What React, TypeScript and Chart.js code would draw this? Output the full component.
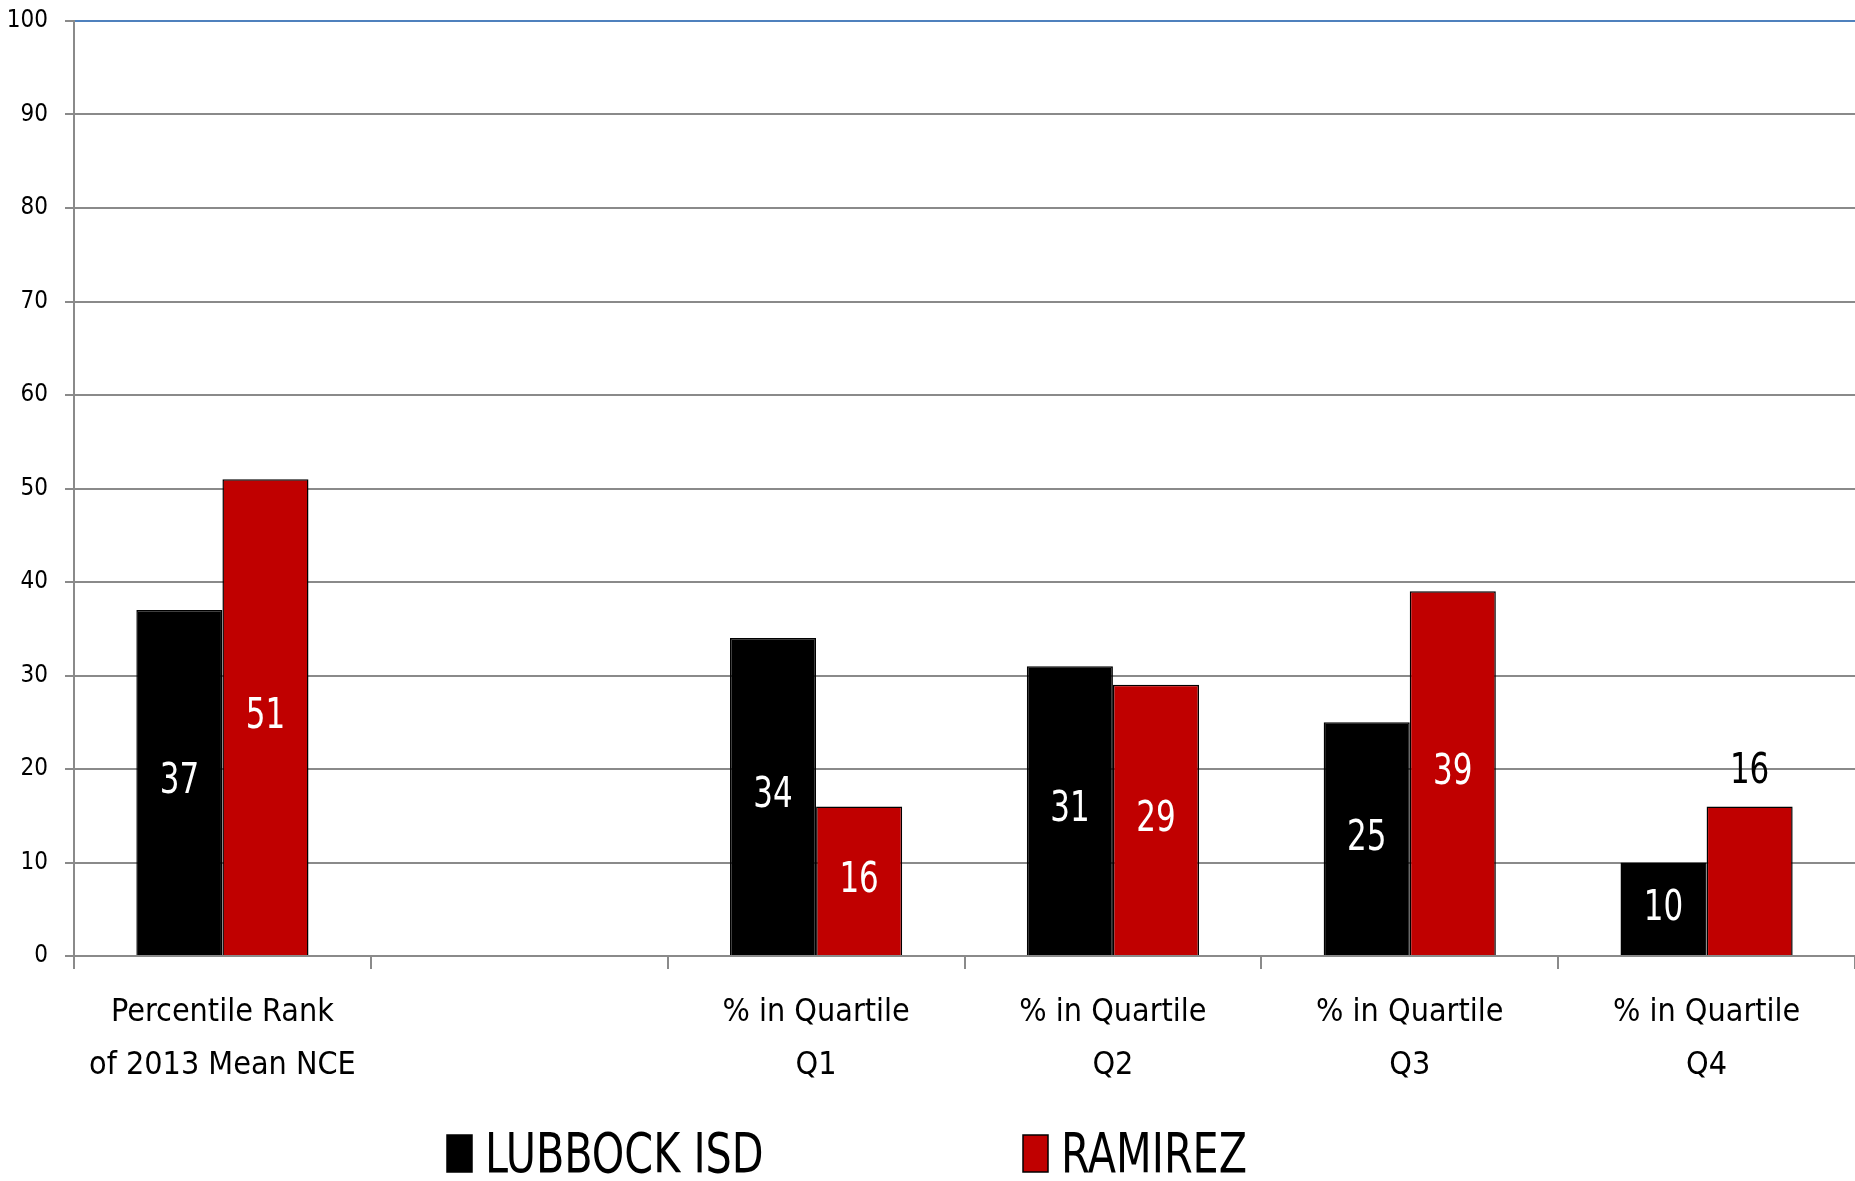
import React, { useEffect, useRef } from "react";
import { Chart, registerables } from "chart.js";

Chart.register(...registerables);

// ---- data ----
const CATEGORIES: string[][] = [
  ["Percentile Rank", "of 2013 Mean NCE"],
  [""],
  ["% in Quartile", "Q1"],
  ["% in Quartile", "Q2"],
  ["% in Quartile", "Q3"],
  ["% in Quartile", "Q4"],
];
const SERIES_NAMES = ["LUBBOCK ISD", "RAMIREZ"];
const LUBBOCK = [37, null, 34, 31, 25, 10];
const RAMIREZ = [51, null, 16, 29, 39, 16];
const LUBBOCK_LABEL_POS = ["center", "center", "center", "center", "center", "center"];
const RAMIREZ_LABEL_POS = ["center", "center", "center", "center", "center", "end"];
const Y_MIN = 0;
const Y_MAX = 100;
const Y_STEP = 10;

// ---- styles ----
const FONT = '"Liberation Sans Narrow", "DejaVu Sans Condensed", "Liberation Sans", sans-serif';
const BLACK = "#000000";
const RED = "#C00000";
const GRID = "#8A8A8A";
const TOP_LINE = "#4F81BD";
const CONDENSE = 0.82;

const dataLabelPlugin = {
  id: "dataLabels",
  afterDatasetsDraw(chart: any) {
    const ctx = chart.ctx;
    chart.data.datasets.forEach((ds: any, di: number) => {
      const meta = chart.getDatasetMeta(di);
      meta.data.forEach((bar: any, i: number) => {
        const v = ds.data[i];
        if (v == null) return;
        const p = bar.getProps(["x", "y", "base"], true);
        const pos = ds.labelPositions[i];
        let y: number;
        let color: string;
        if (pos === "end") {
          y = p.y - 34;
          color = "#000";
        } else {
          y = (p.y + p.base) / 2;
          color = "#fff";
        }
        ctx.save();
        ctx.font = `42px ${FONT}`;
        ctx.textAlign = "center";
        ctx.textBaseline = "middle";
        ctx.fillStyle = color;
        ctx.translate(p.x, y);
        ctx.scale(CONDENSE, 1);
        ctx.fillText(String(v), 0, 0);
        ctx.restore();
      });
    });
  },
};

const LEGEND_START_X = 447;
const LEGEND_ITEM_PITCH = 576;
const LEGEND_BASELINE = 1172;

const legendPlugin = {
  id: "customLegend",
  afterDraw(chart: any) {
    const ctx = chart.ctx;
    chart.data.datasets.forEach((ds: any, i: number) => {
      const x = LEGEND_START_X + i * LEGEND_ITEM_PITCH;
      ctx.save();
      ctx.fillStyle = ds.backgroundColor;
      ctx.fillRect(x, LEGEND_BASELINE - 37, 25, 37);
      ctx.strokeStyle = "#000";
      ctx.lineWidth = 1.5;
      ctx.strokeRect(x, LEGEND_BASELINE - 37, 25, 37);
      ctx.fillStyle = "#000";
      ctx.font = `56px ${FONT}`;
      ctx.textAlign = "left";
      ctx.textBaseline = "alphabetic";
      ctx.translate(x + 38, LEGEND_BASELINE);
      ctx.scale(CONDENSE, 1);
      ctx.fillText(ds.label, 0, 0);
      ctx.restore();
    });
  },
};

export default function App() {
  const canvasRef = useRef<HTMLCanvasElement | null>(null);

  useEffect(() => {
    if (!canvasRef.current) return;
    const chart = new Chart(canvasRef.current, {
      type: "bar",
      data: {
        labels: CATEGORIES,
        datasets: [
          {
            label: SERIES_NAMES[0],
            data: LUBBOCK,
            backgroundColor: BLACK,
            borderColor: "#000",
            borderWidth: 1.5,
            categoryPercentage: 0.58,
            barPercentage: 1,
            labelPositions: LUBBOCK_LABEL_POS,
          } as any,
          {
            label: SERIES_NAMES[1],
            data: RAMIREZ,
            backgroundColor: RED,
            borderColor: "#000",
            borderWidth: 1.5,
            categoryPercentage: 0.58,
            barPercentage: 1,
            labelPositions: RAMIREZ_LABEL_POS,
          } as any,
        ],
      },
      options: {
        animation: false,
        responsive: false,
        devicePixelRatio: 1,
        layout: { padding: { top: 21, left: 0, right: 0, bottom: 0 } },
        plugins: {
          legend: { display: false },
          tooltip: { enabled: false },
        },
        scales: {
          x: {
            grid: {
              display: true,
              drawOnChartArea: false,
              drawTicks: true,
              tickLength: 13,
              color: GRID,
              lineWidth: 2,
              offset: true,
            },
            border: { display: true, color: GRID, width: 2 },
            ticks: {
              color: "#000",
              font: { family: FONT, size: 32, lineHeight: 1.65 },
              padding: 17,
              maxRotation: 0,
              autoSkip: false,
            },
            afterFit: (scale: any) => {
              scale.height = 225;
              scale.paddingLeft = 0;
              scale.paddingRight = 0;
            },
          },
          y: {
            min: Y_MIN,
            max: Y_MAX,
            ticks: {
              stepSize: Y_STEP,
              color: "#000",
              font: { family: FONT, size: 24 },
              padding: 17,
            },
            grid: {
              color: (ctx: any) => (ctx.tick && ctx.tick.value === Y_MAX ? TOP_LINE : GRID),
              lineWidth: 2,
              tickLength: 9,
              tickColor: GRID,
              drawTicks: true,
            },
            border: { display: true, color: GRID, width: 2 },
            afterFit: (scale: any) => {
              scale.width = 74;
              scale.paddingTop = 0;
              scale.paddingBottom = 0;
            },
          },
        },
      },
      plugins: [dataLabelPlugin, legendPlugin],
    });
    return () => chart.destroy();
  }, []);

  return (
    <div style={{ position: "absolute", left: 0, top: 0, width: 1855, height: 1181, background: "#fff" }}>
      <canvas ref={canvasRef} width={1855} height={1181} style={{ display: "block" }} />
    </div>
  );
}
